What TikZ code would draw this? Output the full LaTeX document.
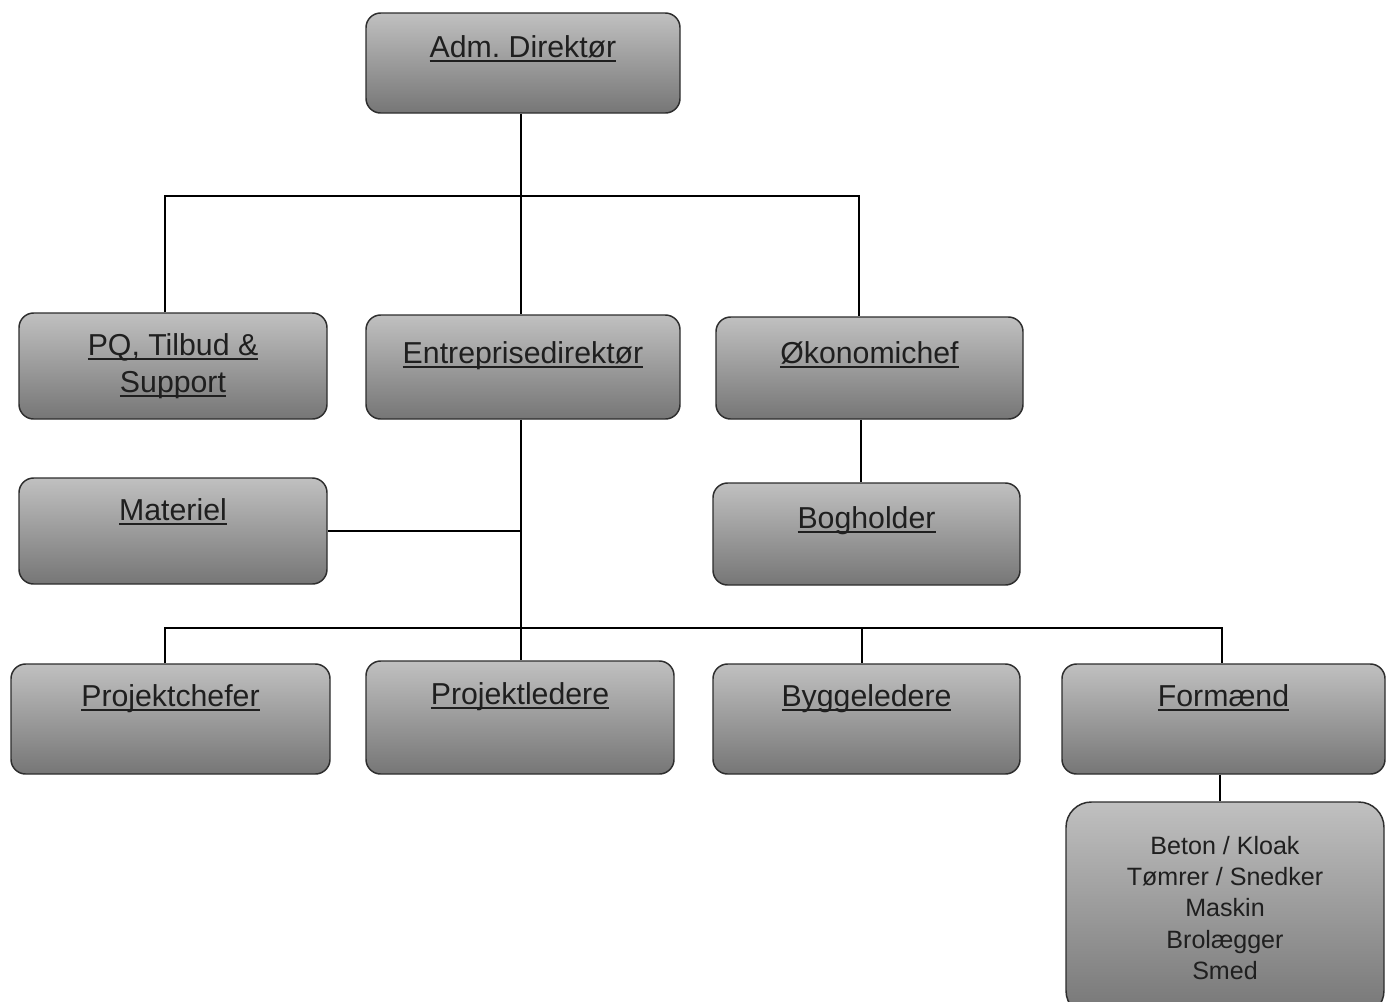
\documentclass[tikz,border=0pt]{standalone}
\usepackage{fontspec}
\setmainfont{Liberation Sans}
\usetikzlibrary{fit}
\definecolor{boxtop}{RGB}{192,192,192}
\definecolor{boxbot}{RGB}{118,118,118}
\definecolor{boxline}{RGB}{45,45,45}
\newcommand\ulin[1]{\setbox0\hbox{#1}\rlap{\rule[-3.6pt]{\wd0}{1.3pt}}\box0}
\frenchspacing
\begin{document}
\begin{tikzpicture}[x=0.75pt,y=-0.75pt,
  box/.style={draw=boxline, line width=1.1pt, rounded corners=11pt,
    top color=boxtop, bottom color=boxbot, inner sep=0pt},
  lbl/.style={anchor=base, inner sep=0pt, text=black!88, font=\fontsize{22.7}{27}\selectfont},
  small/.style={anchor=north, inner sep=0pt, align=center, text=black!88,
    font=\fontsize{18.8}{23.4}\selectfont},
  conn/.style={line width=1.9pt, black}]
\clip (0,0) rectangle (1386,1001);
\fill[white] (0,0) rectangle (1386,1001);
% connector junctions
\coordinate (t1) at (165,196);
\coordinate (t2) at (521,196);
\coordinate (t3) at (859,196);
\coordinate (o1) at (861,0);
\coordinate (b1) at (165,628);
\coordinate (b2) at (521,628);
\coordinate (b3) at (862,628);
\coordinate (b4) at (1222,628);
\coordinate (f1) at (1220,0);
% boxes
\node[box, fit={(366,13) (680,113)}] (adm) {};
\node[box, fit={(19,313) (327,419)}] (pq) {};
\node[box, fit={(366,315) (680,419)}] (ent) {};
\node[box, fit={(716,317) (1023,419)}] (oko) {};
\node[box, fit={(19,478) (327,584)}] (mat) {};
\node[box, fit={(713,483) (1020,585)}] (bog) {};
\node[box, fit={(11,664) (330,774)}] (pc) {};
\node[box, fit={(366,661) (674,774)}] (pl) {};
\node[box, fit={(713,664) (1020,774)}] (bl) {};
\node[box, fit={(1062,664) (1385,774)}] (fm) {};
\node[box, rounded corners=19pt, fit={(1066,802) (1384,1016)}] (bet) {};
% labels
\node[lbl] (admt) at (adm.center |- 0,57) {\ulin{Adm. Direktør}};
\node[lbl] (pqt1) at (pq.center |- 0,355) {\ulin{PQ, Tilbud \&}};
\node[lbl] (pqt2) at (pq.center |- 0,392) {\ulin{Support}};
\node[lbl] (entt) at (ent.center |- 0,363) {\ulin{Entreprisedirektør}};
\node[lbl] (okot) at (oko.center |- 0,363) {\ulin{Økonomichef}};
\node[lbl] (matt) at (mat.center |- 0,520) {\ulin{Materiel}};
\node[lbl] (bogt) at (bog.center |- 0,528) {\ulin{Bogholder}};
\node[lbl] (pct) at (pc.center |- 0,706) {\ulin{Projektchefer}};
\node[lbl] (plt) at (pl.center |- 0,704) {\ulin{Projektledere}};
\node[lbl] (blt) at (bl.center |- 0,706) {\ulin{Byggeledere}};
\node[lbl] (fmt) at (fm.center |- 0,706) {\ulin{Formænd}};
\node[small] (bett) at (bet.center |- 0,836) {Beton / Kloak\\Tømrer / Snedker\\Maskin\\Brolægger\\Smed};
% connectors
\draw[conn] (adm.south -| t2) -- (t2);
\draw[conn] (t1 |- pq.north) -- (t1) -- (t3) -- (t3 |- oko.north);
\draw[conn] (t2) -- (t2 |- ent.north);
\draw[conn] (o1 |- oko.south) -- (o1 |- bog.north);
\draw[conn] (ent.south -| b2) -- (b2);
\draw[conn] (mat.east) -- (mat.east -| b2);
\draw[conn] (b1 |- pc.north) -- (b1) -- (b4) -- (b4 |- fm.north);
\draw[conn] (b2) -- (b2 |- pl.north);
\draw[conn] (b3) -- (b3 |- bl.north);
\draw[conn] (f1 |- fm.south) -- (f1 |- bet.north);
\end{tikzpicture}
\end{document}
